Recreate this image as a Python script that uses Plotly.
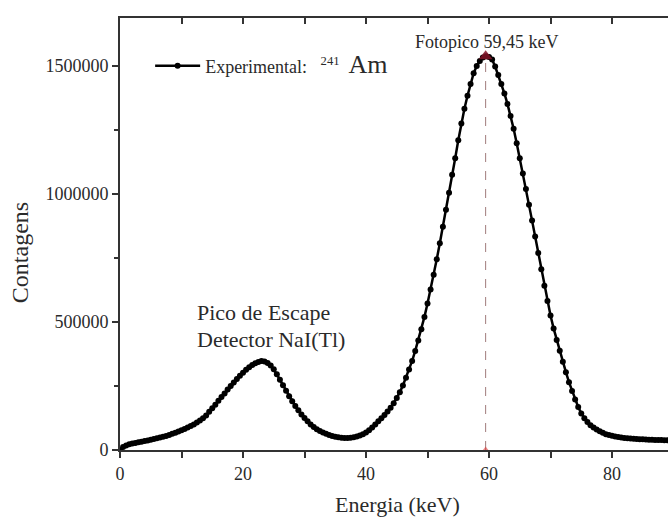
import numpy as np
import plotly.graph_objects as go

# Energy grid (keV) and counts (thousands)
energy_keV = np.round(np.arange(0, 89.01, 0.5), 2)
counts_k = [
    0, 12, 18, 22, 25, 27, 30, 32, 35, 37,
    40, 43, 46, 49, 52, 55, 59, 63, 67, 72,
    77, 82, 88, 94, 100, 107, 115, 124, 135, 149,
    163, 177, 192, 207, 221, 236, 250, 264, 277, 290,
    302, 313, 323, 332, 339, 344, 348, 346, 340, 330,
    315, 296, 274, 253, 231, 210, 190, 172, 155, 139,
    125, 112, 100, 90, 81, 74, 68, 63, 59, 55,
    52, 50, 48, 47, 47, 48, 50, 53, 57, 62,
    68, 77, 88, 100, 112, 124, 137, 150, 165, 183,
    203, 226, 252, 282, 314, 348, 387, 428, 472, 520,
    572, 627, 685, 745, 808, 872, 938, 1005, 1075, 1140,
    1210, 1275, 1333, 1384, 1430, 1472, 1500, 1520, 1533, 1538,
    1535, 1525, 1498, 1465, 1430, 1393, 1352, 1305, 1255, 1198,
    1140, 1080, 1020, 958, 896, 834, 770, 706, 642, 582,
    525, 475, 430, 388, 345, 304, 265, 230, 197, 168,
    143, 124, 109, 97, 88, 80, 73, 67, 62, 59,
    56, 53, 51, 49, 47, 46, 45, 44, 43, 42,
    42, 41, 40, 40, 39, 39, 39, 38, 38,
]
counts = [c * 1000 for c in counts_k]
assert len(counts) == len(energy_keV)

peak_energy = 59.45
peak_counts = max(counts)

x_ticks = [0, 20, 40, 60, 80]
y_ticks = [0, 500000, 1000000, 1500000]
x_range = [0, 89.1]

FONT = "Liberation Serif"
AX = "#333333"
TXT = "#2a2a2a"

fig = go.Figure()

fig.add_trace(go.Scatter(
    x=energy_keV, y=counts, mode="lines+markers",
    name="Experimental:   <sup>241</sup>  <span style='font-size:26px'>Am</span>",
    line=dict(color="black", width=2.5),
    marker=dict(color="black", size=6),
))

# peak markers (peak marker placed on the top axis so that axis is drawn)
fig.add_trace(go.Scatter(
    x=[peak_energy], y=[peak_counts], mode="markers", showlegend=False,
    xaxis="x2", yaxis="y",
    marker=dict(symbol="triangle-up", size=12, color="rgba(130,20,40,0.85)"),
    hoverinfo="skip",
))
fig.add_trace(go.Scatter(
    x=[peak_energy], y=[0], mode="markers", showlegend=False,
    marker=dict(symbol="triangle-up", size=7, color="rgba(220,60,60,0.6)"),
    hoverinfo="skip", cliponaxis=False,
))

fig.add_shape(type="line", x0=peak_energy, x1=peak_energy, y0=0, y1=peak_counts,
              xref="x", yref="y", line=dict(color="rgba(150,110,110,0.9)", width=1, dash="dash"),
              layer="below")

fig.update_layout(
    width=668, height=519,
    margin=dict(l=120, r=0, t=18, b=69),
    paper_bgcolor="white", plot_bgcolor="white",
    font=dict(family=FONT, color=TXT, size=17),
    showlegend=True,
    legend=dict(x=0.055, y=0.889, xanchor="left", yanchor="middle",
                bgcolor="rgba(0,0,0,0)", font=dict(family=FONT, size=18, color=TXT),
                itemwidth=45),
    xaxis=dict(
        range=x_range, tickvals=x_ticks, ticks="outside", ticklen=6, tickwidth=1.5,
        tickcolor=AX, showline=True, linecolor=AX, linewidth=1.8, showgrid=False,
        zeroline=False, tickfont=dict(family=FONT, size=18, color=TXT),
        minor=dict(dtick=10, tick0=0, ticks="outside", ticklen=6, tickwidth=1.5, tickcolor=AX),
    ),
    xaxis2=dict(
        range=x_range, overlaying="x", side="top", anchor="y",
        dtick=10, tick0=0, ticks="inside", ticklen=6, tickwidth=1.5, tickcolor=AX,
        showline=True, linecolor=AX, linewidth=1.8, showticklabels=False,
        showgrid=False, zeroline=False,
    ),
    yaxis=dict(
        range=[0, 1687500], tickvals=y_ticks, tickformat="d", ticks="outside",
        ticklen=6, tickwidth=1.5, tickcolor=AX, showline=True, linecolor=AX,
        linewidth=1.8, showgrid=False, zeroline=False,
        tickfont=dict(family=FONT, size=18, color=TXT),
        minor=dict(dtick=250000, tick0=0, ticks="outside", ticklen=4, tickwidth=1.5, tickcolor=AX),
    ),
)

fig.add_annotation(text="Energia (keV)", xref="paper", yref="paper", x=0.507, y=-0.125,
                   xanchor="center", yanchor="middle", showarrow=False,
                   font=dict(family=FONT, size=22, color=TXT))
fig.add_annotation(text="Contagens", xref="paper", yref="paper", x=-0.1825, y=0.458,
                   xanchor="center", yanchor="middle", showarrow=False, textangle=-90,
                   font=dict(family=FONT, size=24, color=TXT))
fig.add_annotation(text="Fotopico 59,45 keV", xref="x", yref="y", x=59.6, y=1595000,
                   xanchor="center", yanchor="middle", showarrow=False,
                   font=dict(family=FONT, size=18, color=TXT))
fig.add_annotation(text="Pico de Escape", xref="x", yref="y", x=12.2, y=539000,
                   xanchor="left", yanchor="middle", showarrow=False,
                   font=dict(family=FONT, size=22, color=TXT))
fig.add_annotation(text="Detector NaI(Tl)", xref="x", yref="y", x=12.2, y=430000,
                   xanchor="left", yanchor="middle", showarrow=False,
                   font=dict(family=FONT, size=22, color=TXT))

fig.write_html("out.html", config={"displayModeBar": False},
               post_script="document.body.style.margin='0px';document.body.style.overflow='hidden';")
